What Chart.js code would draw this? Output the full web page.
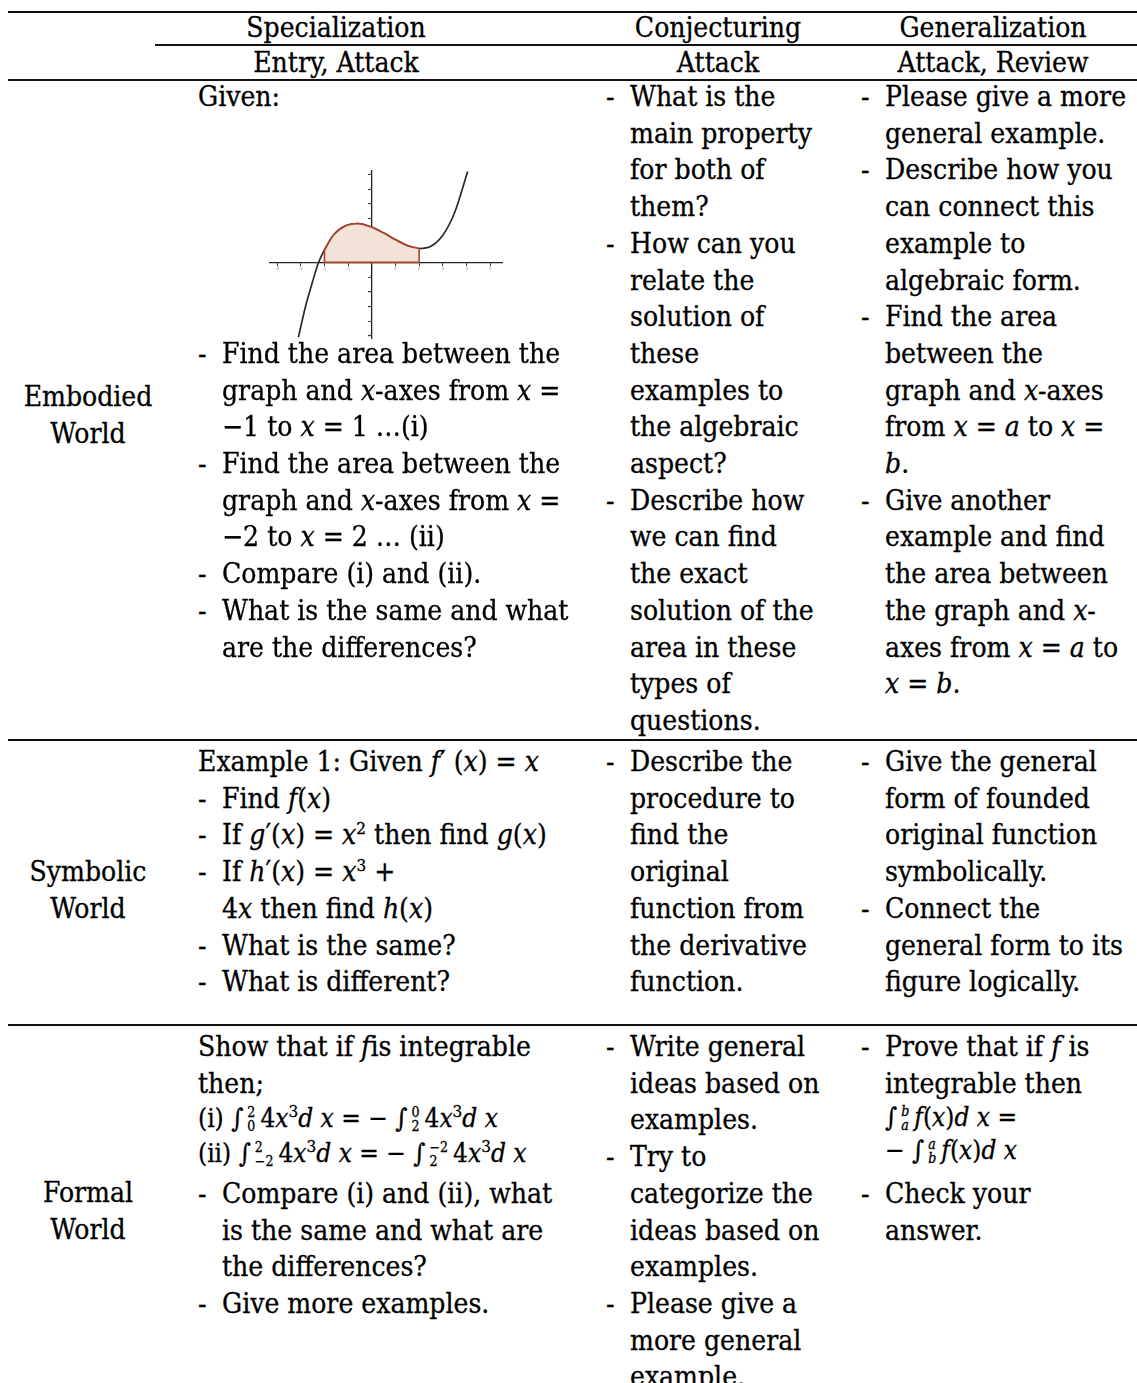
<!DOCTYPE html>
<html>
<head>
<meta charset="utf-8">
<title>Specialization, Conjecturing, Generalization</title>
<script src="https://cdn.jsdelivr.net/npm/chart.js"></script>
<style>
    body { margin: 0; background: #fff; }
    #page {
        position: relative; width: 1137px; height: 1383px; overflow: hidden;
        font-family: "DejaVu Serif Condensed", "DejaVu Serif", serif;
        font-stretch: condensed; font-size: 28px; color: #000;
        -webkit-text-stroke: 0.3px #000;
    }
    .ln { position: absolute; white-space: nowrap; line-height: 36px; height: 36px; }
    .mid { transform: translateX(-50%); }
    .rule { position: absolute; height: 2px; background: #111; }
    .sm { font-size: 26px; }
    .lim { display: inline-flex; flex-direction: column; vertical-align: 10px;
           font-size: 14px; line-height: 14px; margin: 0 5px 0 4px; }
    sup { font-size: 17px; line-height: 0; }
    #graph { position: absolute; left: 262px; top: 163px; width: 248px; height: 183px; }
</style>
</head>
<body>
<div id="page">
    <div id="graph"><canvas id="myChart"></canvas></div>
</div>

<script>
// curve (graph units, ticks every 1)
const curveX = [-3.1, -2.8, -2.5, -2.25, -2.0, -1.6, -1.1, -0.6, 0, 0.5, 1.0, 1.5, 2.0, 2.5, 3.0, 3.5, 4.05];
const curveY = [-5.1, -3.0, -1.3, 0, 0.85, 1.9, 2.5, 2.65, 2.4, 2.0, 1.55, 1.15, 0.95, 1.1, 1.85, 3.4, 6.2];
const areaFrom = -2;
const areaTo = 2;
const xTicks = [-4, -3, -2, -1, 0, 1, 2, 3, 4, 5];
const yTicks = [-5, -4, -3, -2, -1, 0, 1, 2, 3, 4, 5, 6];

// table text
const headTop = ['Specialization', 'Conjecturing', 'Generalization'];
const headSub = ['Entry, Attack', 'Attack', 'Attack, Review'];
const worlds = [['Embodied', 'World'], ['Symbolic', 'World'], ['Formal', 'World']];

const embSpec = [
    'Given:', '', '', '', '', '', '',
    '- Find the area between the',
    '~graph and <i>x</i>-axes from <i>x</i> =',
    '~−1 to <i>x</i> = 1 …(i)',
    '- Find the area between the',
    '~graph and <i>x</i>-axes from <i>x</i> =',
    '~−2 to <i>x</i> = 2 … (ii)',
    '- Compare (i) and (ii).',
    '- What is the same and what',
    '~are the differences?'
];
const embConj = [
    '- What is the', '~main property', '~for both of', '~them?',
    '- How can you', '~relate the', '~solution of', '~these', '~examples to',
    '~the algebraic', '~aspect?',
    '- Describe how', '~we can find', '~the exact', '~solution of the',
    '~area in these', '~types of', '~questions.'
];
const embGen = [
    '- Please give a more', '~general example.',
    '- Describe how you', '~can connect this', '~example to', '~algebraic form.',
    '- Find the area', '~between the', '~graph and <i>x</i>-axes',
    '~from <i>x</i> = <i>a</i> to <i>x</i> =', '~<i>b</i>.',
    '- Give another', '~example and find', '~the area between',
    '~the graph and <i>x</i>-', '~axes from <i>x</i> = <i>a</i> to', '~<i>x</i> = <i>b</i>.'
];

const symSpec = [
    'Example 1: Given <i>f</i>′ (<i>x</i>) = <i>x</i>',
    '- Find <i>f</i>(<i>x</i>)',
    '- If <i>g</i>′(<i>x</i>) = <i>x</i><sup>2</sup> then find <i>g</i>(<i>x</i>)',
    '- If <i>h</i>′(<i>x</i>) = <i>x</i><sup>3</sup> +',
    '~4<i>x</i> then find <i>h</i>(<i>x</i>)',
    '- What is the same?',
    '- What is different?'
];
const symConj = [
    '- Describe the', '~procedure to', '~find the', '~original',
    '~function from', '~the derivative', '~function.'
];
const symGen = [
    '- Give the general', '~form of founded', '~original function', '~symbolically.',
    '- Connect the', '~general form to its', '~figure logically.'
];

const ix = '4<i>x</i><sup>3</sup><i>d x</i>';
const forSpec = [
    'Show that if <i>f</i>is integrable',
    'then;',
    '<span class="sm">(i) ∫<span class="lim"><span>2</span><span>0</span></span>' + ix +
        ' = − ∫<span class="lim"><span>0</span><span>2</span></span>' + ix + '</span>',
    '<span class="sm">(ii) ∫<span class="lim"><span>2</span><span>−2</span></span>' + ix +
        ' = − ∫<span class="lim"><span>−2</span><span>2</span></span>' + ix + '</span>',
    '- Compare (i) and (ii), what',
    '~is the same and what are',
    '~the differences?',
    '- Give more examples.'
];
const forSpecSteps = [0, 1, 1.93, 2.9, 4, 5, 6, 7];
const forConj = [
    '- Write general', '~ideas based on', '~examples.',
    '- Try to', '~categorize the', '~ideas based on', '~examples.',
    '- Please give a', '~more general', '~example.'
];
const forGen = [
    '- Prove that if <i>f</i> is', '~integrable then',
    '~<span class="sm">∫<span class="lim"><span><i>b</i></span><span><i>a</i></span></span><i>f</i>(<i>x</i>)<i>d x</i> =</span>',
    '~<span class="sm">− ∫<span class="lim"><span><i>a</i></span><span><i>b</i></span></span><i>f</i>(<i>x</i>)<i>d x</i></span>',
    '- Check your', '~answer.'
];
const forGenSteps = [0, 1, 1.9, 2.82, 4, 5];

const page = document.getElementById('page');
const step = 36.7;

function addLine(html, x, y, cls) {
    const d = document.createElement('div');
    d.className = 'ln' + (cls ? ' ' + cls : '');
    d.style.left = x + 'px';
    d.style.top = (y - 18) + 'px';
    d.innerHTML = html;
    page.appendChild(d);
}

// '- ' = bullet line, '~' = continuation under the bullet text
function addBlock(lines, x, y0, steps) {
    lines.forEach(function (t, i) {
        if (t === '') return;
        const y = y0 + (steps ? steps[i] : i) * step;
        if (t.startsWith('- ')) {
            addLine('-', x, y);
            addLine(t.slice(2), x + 24, y);
        } else if (t.startsWith('~')) {
            addLine(t.slice(1), x + 24, y);
        } else {
            addLine(t, x, y);
        }
    });
}

function addRule(x, y, w) {
    const r = document.createElement('div');
    r.className = 'rule';
    r.style.left = x + 'px';
    r.style.top = (y - 1) + 'px';
    r.style.width = w + 'px';
    page.appendChild(r);
}

addRule(8, 12, 1129);
addRule(155, 45, 982);
addRule(8, 80, 1129);
addRule(8, 740, 1129);
addRule(8, 1025, 1129);

const headX = [336, 718, 993];
headTop.forEach(function (t, i) { addLine(t, headX[i], 28, 'mid'); });
headSub.forEach(function (t, i) { addLine(t, headX[i], 63, 'mid'); });

const worldY = [397, 872, 1193];
worlds.forEach(function (w, i) {
    addLine(w[0], 88, worldY[i], 'mid');
    addLine(w[1], 88, worldY[i] + 37, 'mid');
});

const colX = [198, 606, 861];
addBlock(embSpec, colX[0], 97);
addBlock(embConj, colX[1], 97);
addBlock(embGen, colX[2], 97);
addBlock(symSpec, colX[0], 762);
addBlock(symConj, colX[1], 762);
addBlock(symGen, colX[2], 762);
addBlock(forSpec, colX[0], 1047, forSpecSteps);
addBlock(forConj, colX[1], 1047);
addBlock(forGen, colX[2], 1047, forGenSteps);

// the small graph
const curve = curveX.map((x, i) => ({ x: x, y: curveY[i] }));
const area = curve.filter(p => p.x >= areaFrom && p.x <= areaTo);
const yAt = x => curveY[curveX.indexOf(x)];
const edges = [
    { x: areaTo, y: yAt(areaTo) }, { x: areaTo, y: 0 },
    { x: areaFrom, y: 0 }, { x: areaFrom, y: yAt(areaFrom) }
];

const axisStyle = {
    border: { display: true, color: '#222', width: 1.3 },
    grid: { display: true, drawOnChartArea: false, drawTicks: true, tickLength: 3, color: '#333', lineWidth: 1 },
    ticks: { font: { size: 4 }, color: '#888', padding: 1 }
};

const ctx = document.getElementById('myChart');
new Chart(ctx, {
    type: 'line',
    data: {
        datasets: [
            { data: edges, borderColor: '#a8432a', borderWidth: 1.6, tension: 0, pointRadius: 0, order: 1 },
            { data: area, borderColor: '#a8432a', borderWidth: 1.8, backgroundColor: '#f3e2d8',
              fill: 'origin', cubicInterpolationMode: 'monotone', pointRadius: 0, order: 2 },
            { data: curve, borderColor: '#2a2a2a', borderWidth: 1.7, cubicInterpolationMode: 'monotone',
              pointRadius: 0, order: 3 }
        ]
    },
    options: {
        responsive: true,
        maintainAspectRatio: false,
        animation: false,
        layout: { padding: 8 },
        plugins: { legend: { display: false }, tooltip: { enabled: false } },
        scales: {
            x: Object.assign({}, axisStyle, {
                type: 'linear', position: { y: 0 }, min: -4.3, max: 5.5,
                afterFit: function (s) { s.height = 0; },
                afterBuildTicks: function (s) { s.ticks = xTicks.map(v => ({ value: v })); },
                ticks: Object.assign({}, axisStyle.ticks, { includeBounds: false })
            }),
            y: Object.assign({}, axisStyle, {
                type: 'linear', position: { x: 0 }, min: -5.15, max: 6.23,
                afterFit: function (s) { s.width = 0; },
                afterBuildTicks: function (s) { s.ticks = yTicks.map(v => ({ value: v })); },
                ticks: Object.assign({}, axisStyle.ticks, { includeBounds: false })
            })
        }
    }
});
</script>
</body>
</html>
